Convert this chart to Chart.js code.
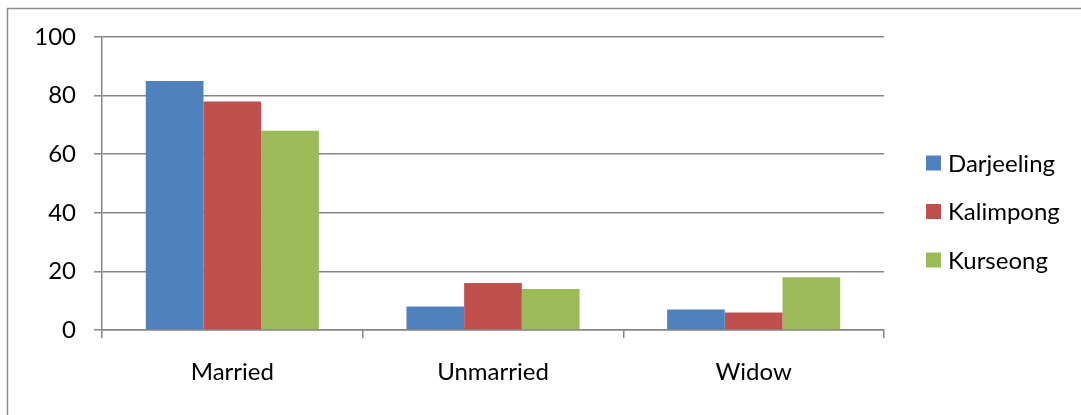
<!DOCTYPE html>
<html>
<head>
<meta charset="utf-8">
<script src="https://cdn.jsdelivr.net/npm/chart.js@4/dist/chart.umd.min.js"></script>
<style>
  html, body { margin: 0; padding: 0; background: #ffffff; }
  #wrap { width: 1081px; height: 415px; position: relative; }
</style>
</head>
<body>
<div id="wrap"><canvas id="chart" width="1081" height="415"></canvas></div>
<script>
// Marital status by subdivision (%)
const categories = ['Married', 'Unmarried', 'Widow'];
const seriesNames = ['Darjeeling', 'Kalimpong', 'Kurseong'];
const darjeeling = [85, 8, 7];
const kalimpong = [78, 16, 6];
const kurseong = [68, 14, 18];
const yTickValues = [0, 20, 40, 60, 80, 100];

const seriesColors = ['#4F81BD', '#C0504D', '#9BBB59'];
const gridGray = '#868686';
const fontFamily = 'Lato, "Open Sans", sans-serif';
const fontSize = 24;

// Outer frame: left and top edges of the chart box
const framePlugin = {
  id: 'frame',
  beforeDraw(chart) {
    const ctx = chart.ctx;
    ctx.save();
    ctx.strokeStyle = '#8c8c8c';
    ctx.lineWidth = 1.5;
    ctx.beginPath();
    ctx.moveTo(7.5, chart.height);
    ctx.lineTo(7.5, 8.5);
    ctx.lineTo(chart.width, 8.5);
    ctx.stroke();
    ctx.restore();
  }
};

// Legend drawn as a vertical list of square swatches to the right of the plot
const sideLegend = {
  id: 'sideLegend',
  afterDraw(chart) {
    const ctx = chart.ctx;
    const x0 = 926, box = 15, gap = 7, firstY = 163, step = 48.5;
    ctx.save();
    ctx.font = fontSize + 'px ' + fontFamily;
    ctx.textBaseline = 'middle';
    ctx.textAlign = 'left';
    chart.data.datasets.forEach((ds, i) => {
      const cy = firstY + i * step;
      ctx.fillStyle = ds.backgroundColor;
      ctx.fillRect(x0, cy - box / 2, box, box);
      ctx.fillStyle = '#000000';
      ctx.fillText(ds.label, x0 + box + gap, cy + 1);
    });
    ctx.restore();
  }
};

const datasets = [darjeeling, kalimpong, kurseong].map((values, i) => ({
  label: seriesNames[i],
  data: values,
  backgroundColor: seriesColors[i],
  borderWidth: 0,
  categoryPercentage: 0.664,
  barPercentage: 1.0
}));

new Chart(document.getElementById('chart'), {
  type: 'bar',
  data: { labels: categories, datasets },
  plugins: [framePlugin, sideLegend],
  options: {
    responsive: false,
    animation: false,
    layout: { padding: { left: 0, top: 37, right: 197, bottom: 0 } },
    plugins: {
      legend: { display: false },
      tooltip: { enabled: false }
    },
    scales: {
      x: {
        grid: {
          offset: true,
          drawOnChartArea: false,
          drawTicks: true,
          tickLength: 8,
          color: gridGray,
          lineWidth: 1.5
        },
        border: { display: true, color: gridGray, width: 1.5 },
        ticks: {
          color: '#000000',
          font: { family: fontFamily, size: fontSize },
          padding: 20,
          maxRotation: 0
        },
        afterFit(scale) { scale.height = 85; }
      },
      y: {
        min: 0,
        max: 100,
        afterBuildTicks(scale) { scale.ticks = yTickValues.map(v => ({ value: v })); },
        grid: {
          drawOnChartArea: true,
          drawTicks: true,
          tickLength: 8,
          color: gridGray,
          lineWidth: 1.5
        },
        border: { display: true, color: gridGray, width: 1.5 },
        ticks: {
          color: '#000000',
          font: { family: fontFamily, size: fontSize },
          padding: 18
        },
        afterFit(scale) { scale.width = 102; }
      }
    }
  }
});
</script>
</body>
</html>
